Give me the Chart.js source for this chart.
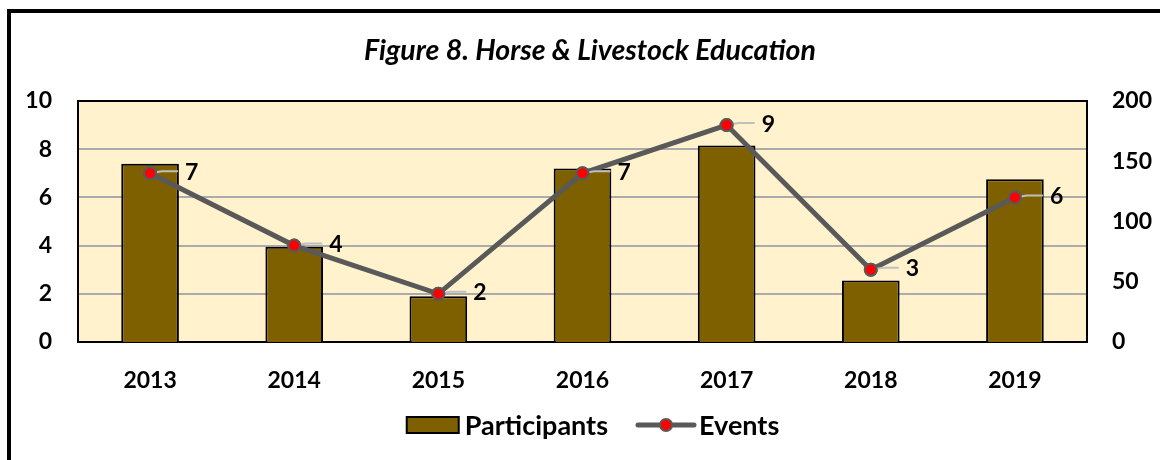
<!DOCTYPE html>
<html>
<head>
<meta charset="utf-8">
<script src="https://cdn.jsdelivr.net/npm/chart.js@4"></script>
<style>
  html, body { margin: 0; padding: 0; background: #fff; }
  #wrap { width: 1160px; height: 460px; }
</style>
</head>
<body>
<div id="wrap"><canvas id="myChart" width="1160" height="460"></canvas></div>
<script>
// data
const years = ['2013', '2014', '2015', '2016', '2017', '2018', '2019']
const participants = [148, 79, 38, 144, 163, 51, 135]
const events = [7, 4, 2, 7, 9, 3, 6]
const eventTicks = [0, 2, 4, 6, 8, 10]
const participantTicks = [0, 50, 100, 150, 200]
const chartTitle = 'Figure 8. Horse & Livestock Education'

const FONT = 'Lato, "Open Sans", sans-serif'
const barColor = '#7F6000'
const lineColor = '#595959'

// outer frame, title, plot background and plot border
const framePlugin = {
    id: 'frame',
    beforeDraw(chart) {
        const ctx = chart.ctx
        const a = chart.chartArea
        ctx.save()
        ctx.fillStyle = '#fff'
        ctx.fillRect(0, 0, chart.width, chart.height)
        ctx.lineWidth = 4
        ctx.strokeStyle = '#000'
        ctx.strokeRect(9, 11, 1300, 600)
        ctx.fillStyle = '#FFF2CC'
        ctx.fillRect(a.left, a.top, a.right - a.left, a.bottom - a.top)
        ctx.fillStyle = '#000'
        ctx.font = 'italic bold 28.5px ' + FONT
        ctx.textAlign = 'center'
        ctx.textBaseline = 'middle'
        ctx.fillText(chartTitle, 590, 51)
        ctx.restore()
    },
    beforeDatasetsDraw(chart) {
        const ctx = chart.ctx
        const a = chart.chartArea
        ctx.save()
        ctx.lineWidth = 2
        ctx.strokeStyle = '#000'
        ctx.strokeRect(a.left, a.top, a.right - a.left, a.bottom - a.top)
        ctx.restore()
    }
}

// value labels with small leader lines
const labelPlugin = {
    id: 'eventLabels',
    afterDatasetsDraw(chart) {
        const ctx = chart.ctx
        const meta = chart.getDatasetMeta(1)
        ctx.save()
        ctx.font = 'bold 23px ' + FONT
        ctx.textBaseline = 'middle'
        ctx.fillStyle = '#000'
        meta.data.forEach((pt, i) => {
            ctx.strokeStyle = '#BFBFBF'
            ctx.lineWidth = 2
            ctx.beginPath()
            ctx.moveTo(pt.x, pt.y)
            ctx.lineTo(pt.x + 12, pt.y - 2)
            ctx.lineTo(pt.x + 28, pt.y - 2)
            ctx.stroke()
            ctx.fillText(events[i], pt.x + 35, pt.y - 1)
        })
        // redraw points so leader lines sit under them
        meta.data.forEach(pt => pt.draw(ctx))
        ctx.restore()
    }
}

// legend drawn by hand: box for bars, line+dot for events
const legendPlugin = {
    id: 'handLegend',
    afterDraw(chart) {
        const ctx = chart.ctx
        ctx.save()
        ctx.font = 'bold 27px ' + FONT
        ctx.textBaseline = 'middle'
        const y = 425
        const w1 = ctx.measureText('Participants').width
        const w2 = ctx.measureText('Events').width
        const total = 52 + 6 + w1 + 30 + 56 + 5 + w2
        let x = 593 - total / 2
        ctx.fillStyle = barColor
        ctx.fillRect(x, y - 8, 52, 16)
        ctx.lineWidth = 2
        ctx.strokeStyle = '#000'
        ctx.strokeRect(x, y - 8, 52, 16)
        x += 58
        ctx.fillStyle = '#000'
        ctx.fillText('Participants', x, y + 1)
        x += w1 + 30
        ctx.strokeStyle = lineColor
        ctx.lineWidth = 5
        ctx.lineCap = 'round'
        ctx.beginPath()
        ctx.moveTo(x, y)
        ctx.lineTo(x + 56, y)
        ctx.stroke()
        ctx.beginPath()
        ctx.arc(x + 28, y, 6, 0, Math.PI * 2)
        ctx.fillStyle = '#FF0000'
        ctx.fill()
        ctx.lineWidth = 2
        ctx.stroke()
        x += 61
        ctx.fillStyle = '#000'
        ctx.fillText('Events', x, y + 1)
        ctx.restore()
    }
}

const tickFont = { family: FONT, size: 23, weight: 'bold' }

const config = {
    type: 'bar',
    data: {
        labels: years,
        datasets: [{
            type: 'bar',
            label: 'Participants',
            data: participants,
            yAxisID: 'y1',
            backgroundColor: barColor,
            borderColor: '#000',
            borderWidth: 2,
            categoryPercentage: 0.8,
            barPercentage: 0.5,
            order: 2
        }, {
            type: 'line',
            label: 'Events',
            data: events,
            yAxisID: 'y',
            borderColor: lineColor,
            borderWidth: 5,
            pointRadius: 6,
            pointBorderWidth: 2,
            pointBackgroundColor: '#FF0000',
            pointBorderColor: lineColor,
            tension: 0,
            order: 1
        }]
    },
    options: {
        responsive: false,
        animation: false,
        layout: { padding: { top: 101, left: 0, right: 0, bottom: 0 } },
        plugins: {
            legend: { display: false },
            title: { display: false },
            tooltip: { enabled: false }
        },
        scales: {
            x: {
                grid: { display: false },
                border: { display: false },
                ticks: { color: '#000', font: tickFont, padding: 17 },
                afterFit: s => { s.height = 118 }
            },
            y: {
                position: 'left',
                min: 0, max: 10,
                afterBuildTicks: s => { s.ticks = eventTicks.map(v => ({ value: v })) },
                grid: { color: '#ABABAB', lineWidth: 2, drawTicks: false },
                border: { display: false },
                ticks: { color: '#000', font: tickFont, padding: 26 },
                afterFit: s => { s.width = 78 }
            },
            y1: {
                position: 'right',
                min: 0, max: 200,
                afterBuildTicks: s => { s.ticks = participantTicks.map(v => ({ value: v })) },
                grid: { display: false, drawTicks: false },
                border: { display: false },
                ticks: { color: '#000', font: tickFont, padding: 25 },
                afterFit: s => { s.width = 73 }
            }
        }
    },
    plugins: [framePlugin, labelPlugin, legendPlugin]
}

const myChart = new Chart(document.getElementById('myChart'), config)
</script>
</body>
</html>
